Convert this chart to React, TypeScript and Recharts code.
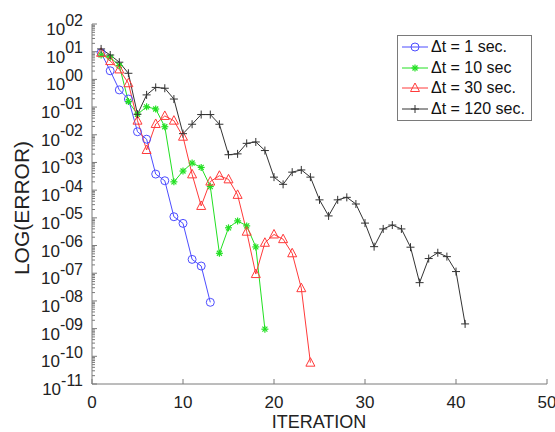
import { LineChart, Line, XAxis, YAxis, Legend, Label } from 'recharts';

// log10 of the error, one value per iteration (iteration 1, 2, ...)
const dt1Log = [0.96, 0.31, -0.38, -0.71, -1.89, -2.16, -3.42, -3.66, -4.96, -5.2, -6.5, -6.74, -8.05];
const dt10Log = [
  0.88, 0.8, 0.5, -0.8, -1.26, -0.99, -1.07, -1.71, -3.7, -3.31, -3.02, -3.18, -3.87, -6.28, -5.36,
  -5.11, -5.29, -6.05, -9.02,
];
const dt30Log = [
  0.96, 0.66, 0.36, -0.14, -1.49, -2.55, -1.61, -1.32, -1.49, -2.07, -3.43, -4.57, -3.69, -3.48,
  -3.61, -4.17, -5.5, -7.03, -5.9, -5.6, -5.77, -6.28, -7.54, -10.23,
];
const dt120Log = [
  1.1, 0.88, 0.62, 0.22, -1.26, -0.56, -0.29, -0.32, -0.71, -1.96, -1.62, -1.27, -1.27, -1.62,
  -2.72, -2.69, -2.31, -2.26, -2.57, -3.53, -3.79, -3.35, -3.27, -3.53, -4.35, -4.93, -4.35, -4.26,
  -4.5, -5.19, -6.04, -5.4, -5.26, -5.4, -6.06, -7.34, -6.47, -6.26, -6.4, -6.94, -8.83,
];

const xTicks = [0, 10, 20, 30, 40, 50];
const yMajorTicks = [-11, -10, -9, -8, -7, -6, -5, -4, -3, -2, -1, 0, 1, 2];
// log minor ticks inside every decade
const yMinorTicks = yMajorTicks.slice(0, -1).flatMap((d) =>
  [2, 3, 4, 5, 6, 7, 8, 9].map((k) => d + Math.log10(k))
);
const yTicks = [...yMajorTicks, ...yMinorTicks];

const FONT = '"Liberation Sans", Arial, Helvetica, sans-serif';
const AXIS = '#7a7a7a';

const series = [
  { key: 'dt1', label: 'Δt = 1 sec.', color: '#4d4dff', marker: 'circle' },
  { key: 'dt10', label: 'Δt = 10 sec', color: '#22e022', marker: 'star' },
  { key: 'dt30', label: 'Δt = 30 sec.', color: '#ff3a3a', marker: 'triangle' },
  { key: 'dt120', label: 'Δt = 120 sec.', color: '#333333', marker: 'plus' },
];

const rows = dt120Log.map((_, i) => ({
  iter: i + 1,
  dt1: dt1Log[i],
  dt10: dt10Log[i],
  dt30: dt30Log[i],
  dt120: dt120Log[i],
}));

const expLabel = (v: number) => (v < 0 ? '-' : '') + String(Math.abs(v)).padStart(2, '0');

function Marker({ type, cx, cy, color }: { type: string; cx: number; cy: number; color: string }) {
  if (type === 'circle') return <circle cx={cx} cy={cy} r={4} fill="none" stroke={color} strokeWidth={1} />;
  if (type === 'triangle')
    return (
      <polygon
        points={`${cx},${cy - 5} ${cx + 4.5},${cy + 3.5} ${cx - 4.5},${cy + 3.5}`}
        fill="none"
        stroke={color}
        strokeWidth={1}
      />
    );
  if (type === 'plus')
    return (
      <g stroke={color} strokeWidth={1}>
        <line x1={cx - 4} x2={cx + 4} y1={cy} y2={cy} />
        <line x1={cx} x2={cx} y1={cy - 4} y2={cy + 4} />
      </g>
    );
  // star / asterisk
  return (
    <g stroke={color} strokeWidth={1.2}>
      <line x1={cx - 3.5} x2={cx + 3.5} y1={cy} y2={cy} />
      <line x1={cx} x2={cx} y1={cy - 3.5} y2={cy + 3.5} />
      <line x1={cx - 2.5} x2={cx + 2.5} y1={cy - 2.5} y2={cy + 2.5} />
      <line x1={cx - 2.5} x2={cx + 2.5} y1={cy + 2.5} y2={cy - 2.5} />
    </g>
  );
}

const makeDot = (type: string, color: string) => (p: any) => {
  if (p.cy == null || p.value == null || Number.isNaN(p.cy)) return <g key={`e-${p.index}`} />;
  return (
    <g key={`d-${type}-${p.index}`}>
      <Marker type={type} cx={p.cx} cy={p.cy} color={color} />
    </g>
  );
};

const LeftTick = (p: any) => {
  const v = p.payload.value;
  const major = yMajorTicks.includes(v);
  return (
    <g>
      <line x1={p.x} x2={p.x + (major ? 5 : 3)} y1={p.y} y2={p.y} stroke={AXIS} />
      {major && (
        <text x={p.x - 9} y={p.y + 11} textAnchor="end" fontFamily={FONT} fontSize={17} fill="#222">
          <tspan>10</tspan>
          <tspan dy={-9.5} fontSize={16}>{expLabel(v)}</tspan>
        </text>
      )}
    </g>
  );
};

const RightTick = (p: any) => {
  const major = yMajorTicks.includes(p.payload.value);
  return <line x1={p.x} x2={p.x - (major ? 5 : 3)} y1={p.y} y2={p.y} stroke={AXIS} />;
};

const BottomTick = (p: any) => (
  <g>
    <line x1={p.x} x2={p.x} y1={p.y} y2={p.y - 5} stroke={AXIS} />
    <text x={p.x} y={p.y + 24} textAnchor="middle" fontFamily={FONT} fontSize={17} fill="#222">
      {p.payload.value}
    </text>
  </g>
);

const TopTick = (p: any) => <line x1={p.x} x2={p.x} y1={p.y} y2={p.y + 5} stroke={AXIS} />;

const renderLegend = () => (
  <div
    style={{
      border: `1px solid ${AXIS}`,
      background: '#fff',
      width: 135,
      boxSizing: 'border-box',
      padding: '1px 0',
      fontFamily: FONT,
      fontSize: 16,
      color: '#111',
    }}
  >
    {series.map((s) => (
      <div key={s.key} style={{ display: 'flex', alignItems: 'center', height: 20.5 }}>
        <svg width={31} height={12} style={{ display: 'block' }}>
          <line x1={4} x2={30} y1={6} y2={6} stroke={s.color} strokeWidth={1} />
          <Marker type={s.marker} cx={17} cy={6} color={s.color} />
        </svg>
        <span style={{ marginLeft: 2, whiteSpace: 'nowrap' }}>{s.label}</span>
      </div>
    ))}
  </div>
);

export default function App() {
  return (
    <div style={{ position: 'absolute', left: 0, top: 0, width: 555, height: 432, background: '#fff' }}>
      <LineChart width={555} height={432} data={rows} margin={{ top: 24, right: 8, bottom: 0, left: 0 }}>
        <XAxis
          xAxisId="bottom"
          dataKey="iter"
          type="number"
          domain={[0, 50]}
          ticks={xTicks}
          interval={0}
          height={48}
          tickSize={0}
          tickMargin={0}
          tickLine={false}
          axisLine={{ stroke: AXIS }}
          tick={BottomTick}
        >
          <Label
            content={() => (
              <text x={319} y={428} textAnchor="middle" fontFamily={FONT} fontSize={18} fill="#222">
                ITERATION
              </text>
            )}
          />
        </XAxis>
        <XAxis
          xAxisId="top"
          orientation="top"
          dataKey="iter"
          type="number"
          domain={[0, 50]}
          ticks={xTicks}
          interval={0}
          height={0}
          tickSize={0}
          tickMargin={0}
          tickLine={false}
          axisLine={{ stroke: AXIS }}
          tick={TopTick}
        />
        <YAxis
          yAxisId="left"
          type="number"
          domain={[-11, 2]}
          ticks={yTicks}
          interval={0}
          width={92}
          tickSize={0}
          tickMargin={0}
          tickLine={false}
          axisLine={{ stroke: AXIS }}
          tick={LeftTick}
        >
          <Label
            content={() => (
              <text
                x={21}
                y={208}
                transform="rotate(-90, 21, 208)"
                textAnchor="middle"
                dominantBaseline="central"
                fontFamily={FONT}
                fontSize={21}
                fill="#222"
              >
                LOG(ERROR)
              </text>
            )}
          />
        </YAxis>
        <YAxis
          yAxisId="right"
          orientation="right"
          type="number"
          domain={[-11, 2]}
          ticks={yTicks}
          interval={0}
          width={0}
          tickSize={0}
          tickMargin={0}
          tickLine={false}
          axisLine={{ stroke: AXIS }}
          tick={RightTick}
        />
        <Legend
          layout="vertical"
          align="center"
          verticalAlign="middle"
          content={renderLegend}
          wrapperStyle={{ position: 'absolute', left: 397, top: 35, width: 135, height: 'auto' }}
        />
        {series.map((s) => (
          <Line
            key={s.key}
            xAxisId="bottom"
            yAxisId="left"
            dataKey={s.key}
            type="linear"
            stroke={s.color}
            strokeWidth={1}
            dot={makeDot(s.marker, s.color)}
            activeDot={false}
            isAnimationActive={false}
            legendType="none"
          />
        ))}
      </LineChart>
    </div>
  );
}
